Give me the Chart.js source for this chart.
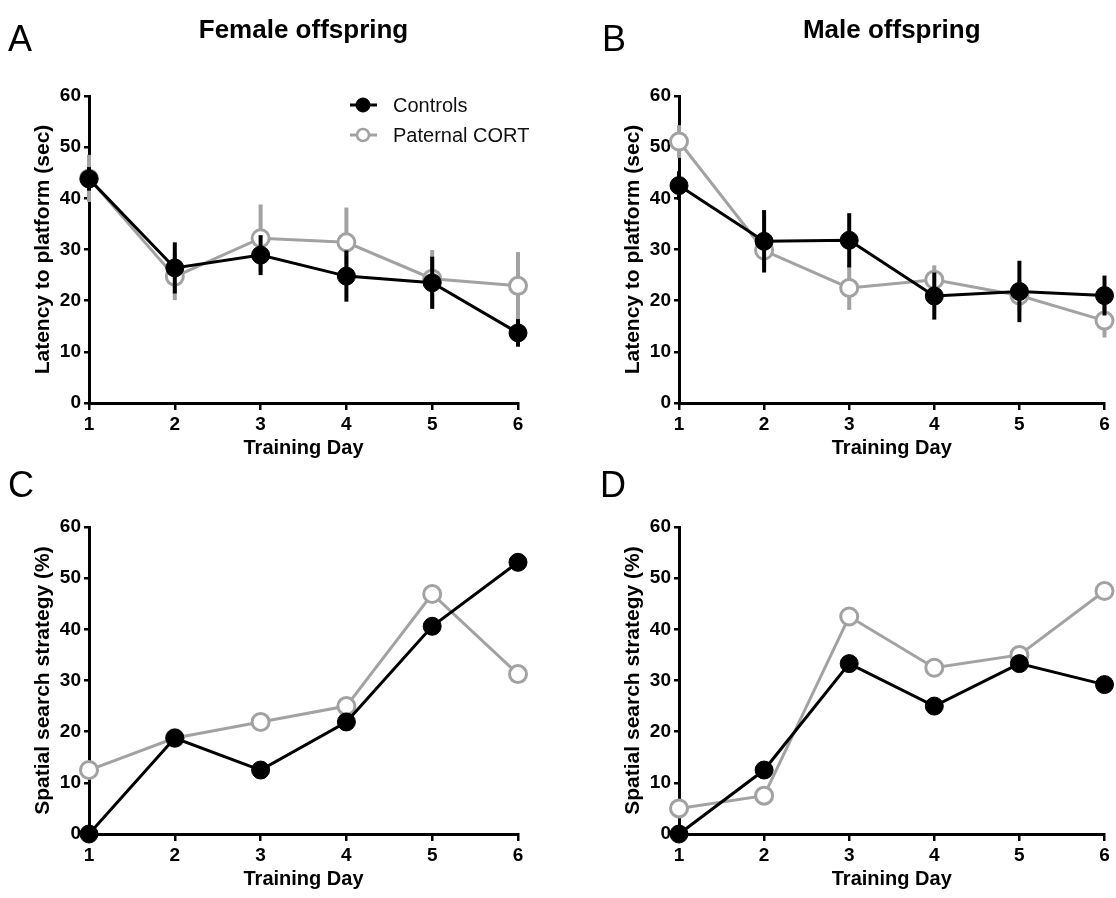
<!DOCTYPE html>
<html>
<head>
<meta charset="utf-8">
<script src="https://cdn.jsdelivr.net/npm/chart.js@4.4.1/dist/chart.umd.min.js"></script>
<style>
  html, body { margin: 0; padding: 0; background: #fff; }
  body { width: 1116px; height: 898px; overflow: hidden; position: relative; }
  .panel { position: absolute; }
</style>
</head>
<body>
<div class="panel" style="left:0;top:0;width:545px;height:480px"><canvas id="panelA"></canvas></div>
<div class="panel" style="left:590px;top:0;width:526px;height:480px"><canvas id="panelB"></canvas></div>
<div class="panel" style="left:0;top:431px;width:545px;height:480px"><canvas id="panelC"></canvas></div>
<div class="panel" style="left:590px;top:431px;width:526px;height:480px"><canvas id="panelD"></canvas></div>
<script>
const FONT = "'Liberation Sans', Arial, Helvetica, sans-serif";
const BLACK = '#000000';
const GREY = '#a2a2a2';

// training days (x categories)
const days = ['1', '2', '3', '4', '5', '6'];
const seriesNames = ['Controls', 'Paternal CORT'];
const yTicks = { min: 0, max: 60, step: 10 };

// A: female latency (mean, sem)
const femaleLatencyControls = [43.8, 26.4, 28.9, 24.8, 23.5, 13.7];
const femaleLatencyControlsSem = [2.3, 5.0, 3.9, 5.0, 5.1, 2.7];
const femaleLatencyCort = [43.9, 24.7, 32.2, 31.4, 24.3, 22.9];
const femaleLatencyCortSem = [4.6, 4.6, 6.6, 6.8, 5.6, 6.6];

// B: male latency (mean, sem)
const maleLatencyControls = [42.5, 31.6, 31.8, 20.9, 21.8, 21.0];
const maleLatencyControlsSem = [2.8, 6.1, 5.3, 4.6, 6.0, 3.9];
const maleLatencyCort = [51.1, 29.8, 22.5, 24.1, 21.0, 16.1];
const maleLatencyCortSem = [3.2, 3.0, 4.3, 2.8, 3.0, 3.3];

// C: female spatial search strategy (%)
const femaleSpatialControls = [0, 18.75, 12.5, 21.9, 40.6, 53.1];
const femaleSpatialCort = [12.5, 18.75, 21.9, 25, 46.9, 31.25];

// D: male spatial search strategy (%)
const maleSpatialControls = [0, 12.5, 33.3, 25, 33.3, 29.2];
const maleSpatialCort = [5, 7.5, 42.5, 32.5, 35, 47.5];

function boldFont(size) {
  return { family: FONT, size: size, weight: 'bold' };
}

// vertical SEM bars, drawn just before each dataset so markers sit on top
const errorBarPlugin = {
  id: 'errorBars',
  beforeDatasetDraw(chart, args) {
    const ds = chart.data.datasets[args.index];
    if (!ds.errorBars) return;
    const ctx = chart.ctx;
    const x = chart.scales.x;
    const y = chart.scales.y;
    ctx.save();
    ctx.strokeStyle = ds.borderColor;
    ctx.lineWidth = 4;
    ds.data.forEach((v, i) => {
      const e = ds.errorBars[i];
      if (!e) return;
      const px = x.getPixelForValue(i);
      ctx.beginPath();
      ctx.moveTo(px, y.getPixelForValue(v - e));
      ctx.lineTo(px, y.getPixelForValue(v + e));
      ctx.stroke();
    });
    ctx.restore();
  }
};

// panel letter, heading and (panel A only) the legend
const panelTextPlugin = {
  id: 'panelText',
  afterDraw(chart, args, opts) {
    const ctx = chart.ctx;
    const area = chart.chartArea;
    ctx.save();
    ctx.fillStyle = BLACK;
    ctx.textBaseline = 'alphabetic';
    ctx.textAlign = 'left';
    ctx.font = '36px ' + FONT;
    ctx.fillText(opts.letter, opts.letterX, opts.letterY);
    if (opts.heading) {
      ctx.textAlign = 'center';
      ctx.font = 'bold 26px ' + FONT;
      ctx.fillText(opts.heading, (area.left + area.right) / 2, 38);
    }
    if (opts.legend) {
      const lg = opts.legend;
      chart.data.datasets.forEach((ds, i) => {
        const cy = lg.y + i * lg.gap;
        ctx.strokeStyle = ds.borderColor;
        ctx.lineWidth = 3;
        ctx.beginPath();
        ctx.moveTo(lg.x - 13, cy);
        ctx.lineTo(lg.x + 14, cy);
        ctx.stroke();
        ctx.beginPath();
        ctx.arc(lg.x, cy, i === 0 ? 7 : 6, 0, Math.PI * 2);
        ctx.fillStyle = ds.pointBackgroundColor;
        ctx.fill();
        ctx.lineWidth = i === 0 ? 1 : 2.5;
        ctx.stroke();
        ctx.fillStyle = '#111';
        ctx.font = '20px ' + FONT;
        ctx.textAlign = 'left';
        ctx.textBaseline = 'middle';
        ctx.fillText(ds.label, lg.x + 30, cy + 1);
      });
    }
    ctx.restore();
  }
};

function makeDatasets(controls, cort, controlsSem, cortSem) {
  return [
    {
      label: seriesNames[0],
      data: controls,
      errorBars: controlsSem,
      borderColor: BLACK,
      backgroundColor: BLACK,
      pointBackgroundColor: BLACK,
      pointBorderColor: BLACK,
      borderWidth: 3,
      pointRadius: 9,
      pointBorderWidth: 1,
      tension: 0,
      clip: false
    },
    {
      label: seriesNames[1],
      data: cort,
      errorBars: cortSem,
      borderColor: GREY,
      backgroundColor: GREY,
      pointBackgroundColor: '#ffffff',
      pointBorderColor: GREY,
      borderWidth: 3,
      pointRadius: 8.5,
      pointBorderWidth: 3,
      tension: 0,
      clip: false
    }
  ];
}

function makePanel(id, datasets, yTitle, text, rightPad) {
  return new Chart(document.getElementById(id), {
    type: 'line',
    data: { labels: days, datasets: datasets },
    plugins: [errorBarPlugin, panelTextPlugin],
    options: {
      responsive: true,
      maintainAspectRatio: false,
      animation: false,
      events: [],
      layout: { padding: { top: 96, right: rightPad, bottom: 0, left: 0 } },
      plugins: {
        legend: { display: false },
        tooltip: { enabled: false },
        panelText: text
      },
      scales: {
        x: {
          type: 'category',
          offset: false,
          grid: { drawOnChartArea: false, drawTicks: true, tickLength: 7, color: BLACK, lineWidth: 2.5 },
          border: { color: BLACK, width: 3 },
          ticks: { color: BLACK, font: boldFont(19), padding: 3, maxRotation: 0, autoSkip: false },
          title: {
            display: true,
            text: 'Training Day',
            color: BLACK,
            font: boldFont(20),
            padding: { top: 0, bottom: 20 }
          },
          afterFit: (s) => { s.height = 77; }
        },
        y: {
          min: yTicks.min,
          max: yTicks.max,
          grid: { drawOnChartArea: false, drawTicks: true, tickLength: 5, color: BLACK, lineWidth: 2.5 },
          border: { color: BLACK, width: 3 },
          ticks: { stepSize: yTicks.step, color: BLACK, font: boldFont(19), padding: 3 },
          title: {
            display: true,
            text: yTitle,
            color: BLACK,
            font: boldFont(21),
            padding: { top: 31, bottom: 0 }
          },
          afterFit: (s) => { s.width = 89; }
        }
      }
    }
  });
}

makePanel('panelA',
  makeDatasets(femaleLatencyControls, femaleLatencyCort, femaleLatencyControlsSem, femaleLatencyCortSem),
  'Latency to platform (sec)',
  { letter: 'A', letterX: 8, letterY: 51, heading: 'Female offspring', legend: { x: 363, y: 105, gap: 30 } },
  27);

makePanel('panelB',
  makeDatasets(maleLatencyControls, maleLatencyCort, maleLatencyControlsSem, maleLatencyCortSem),
  'Latency to platform (sec)',
  { letter: 'B', letterX: 12, letterY: 51, heading: 'Male offspring' },
  8);

makePanel('panelC',
  makeDatasets(femaleSpatialControls, femaleSpatialCort),
  'Spatial search strategy (%)',
  { letter: 'C', letterX: 8, letterY: 66 },
  27);

makePanel('panelD',
  makeDatasets(maleSpatialControls, maleSpatialCort),
  'Spatial search strategy (%)',
  { letter: 'D', letterX: 10, letterY: 66 },
  8);
</script>
</body>
</html>
